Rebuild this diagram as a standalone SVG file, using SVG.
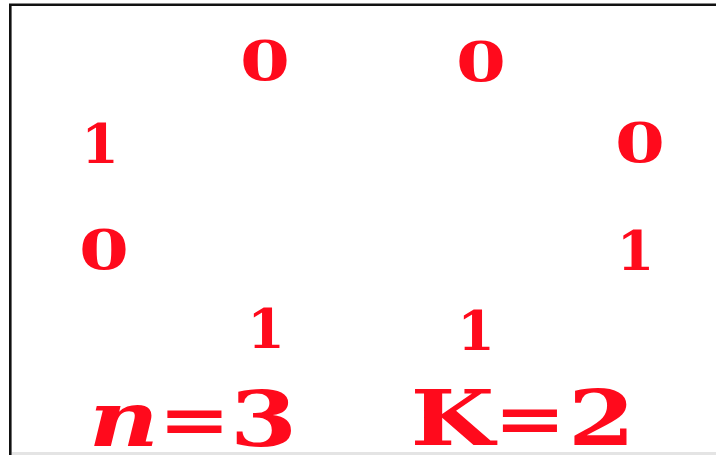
<svg xmlns="http://www.w3.org/2000/svg" width="716" height="455" viewBox="0 0 716 455">
  <style>
    .d { font-family: "DejaVu Serif", "Liberation Serif", serif; font-weight: bold; font-size: 54px; fill: #ff0a1c; text-anchor: middle; }
    .eq { font-family: "DejaVu Serif", "Liberation Serif", serif; font-weight: bold; font-size: 76px; fill: #ff0a1c; text-anchor: middle; }
    .op { font-size: 68px; }
  </style>
  <rect x="0" y="0" width="716" height="455" fill="#ffffff"/>
  <rect x="12" y="452" width="704" height="3" fill="#e4e4e4"/>
  <path d="M10.3,455 V4.8 H716" fill="none" stroke="#111111" stroke-width="2.6"/>

  <g id="bit-top-left"><text class="d" transform="scale(1.33,1)" x="199.2" y="80">0</text></g>
  <g id="bit-top-right"><text class="d" transform="scale(1.33,1)" x="361.7" y="81">0</text></g>
  <g id="bit-left-upper"><text class="d" x="100" y="163">1</text></g>
  <g id="bit-right-upper"><text class="d" transform="scale(1.33,1)" x="481.2" y="162">0</text></g>
  <g id="bit-left-lower"><text class="d" transform="scale(1.33,1)" x="78.2" y="269">0</text></g>
  <g id="bit-right-lower"><text class="d" x="635.5" y="270">1</text></g>
  <g id="bit-bottom-left"><text class="d" x="266" y="348">1</text></g>
  <g id="bit-bottom-right"><text class="d" x="476" y="350">1</text></g>

  <g id="label-n"><text class="eq" transform="scale(1.27,1)" y="446"><tspan x="97.6" font-style="italic">n</tspan><tspan class="op" x="153.1" dy="-3">=</tspan><tspan x="207.5" dy="3">3</tspan></text></g>
  <g id="label-k"><text class="eq" transform="scale(1.27,1)" y="445"><tspan x="356.3">K</tspan><tspan class="op" x="417.3" dy="-3">=</tspan><tspan x="473.6" dy="3">2</tspan></text></g>
</svg>
